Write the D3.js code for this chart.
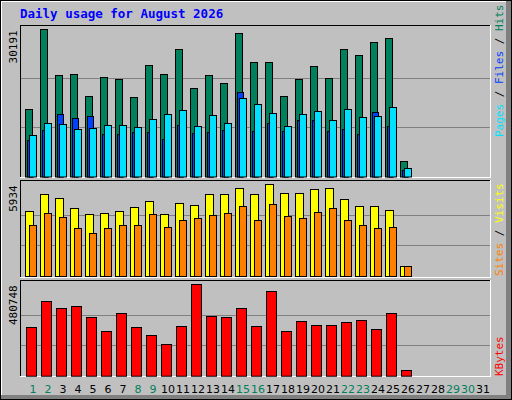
<!DOCTYPE html>
<html><head><meta charset="utf-8">
<script src="https://cdn.jsdelivr.net/npm/d3@7"></script>
<style>body{margin:0;background:#fff}</style></head>
<body><svg id="c" width="512" height="400"></svg>
<script>
const days = d3.range(1, 32);
const weekend = [1,2,8,9,15,16,22,23,29,30];
const hits  = [13865,30191,20764,20969,16461,20355,19945,16256,22813,20969,26092,18100,20764,19125,29371,23428,23428,16461,19945,22609,20150,26092,24863,27527,28346,3142];
const files = [7513,9494,12773,11953,12363,8675,8675,9084,9084,7650,10519,8880,9084,9494,17281,9289,10929,9289,11544,11544,9289,9699,8675,13183,10314,1298];
const pages = [8470,10929,10724,9699,9904,10519,10519,10109,11748,12773,13593,10314,12568,10929,16052,14822,12978,10314,12773,13388,11544,13798,12158,12363,14207,1708];
const visits= [4186,5287,5028,4381,3992,4057,4186,4445,4834,3992,4704,4575,5287,5287,5675,5287,5934,5352,5352,5611,5675,4963,4510,4510,4251,647];
const sites = [3280,4057,3798,3086,2762,3086,3280,3280,3992,3151,3604,3733,3928,4057,4510,3604,4640,3863,3733,4122,4381,3604,3280,3086,3151,647];
const kbytes= [254417,391276,354429,364957,307055,233362,328110,254417,212307,164932,259681,480748,312319,307055,354429,259681,443914,233362,285999,264945,264945,280736,291263,243889,328110,28074];
const maxLabels = ["30191","5934","480748"];

const svg = d3.select("#c");
const mono = "DejaVu Sans Mono, monospace";
// frame
svg.append("rect").attr("x",0).attr("y",0).attr("width",512).attr("height",400).attr("fill","#000");
svg.append("rect").attr("x",1).attr("y",1).attr("width",510).attr("height",398).attr("fill","#808080");
svg.append("rect").attr("x",1).attr("y",1).attr("width",505).attr("height",394).attr("fill","#fff");
svg.append("rect").attr("x",2).attr("y",2).attr("width",504).attr("height",393).attr("fill","#C0C0C0");

svg.append("text").attr("x",20).attr("y",18).attr("fill","#0000FF")
  .attr("font-family",mono).attr("font-weight","bold").attr("font-size",12.5)
  .text("Daily usage for August 2026");

const x = d3.scaleLinear().domain([1,32]).range([25,490]);

function panel(top, bottom, base, maxTop, maxV, label) {
  svg.append("rect").attr("x",20).attr("y",top).attr("width",471).attr("height",bottom-top).attr("fill","#C0C0C0");
  svg.append("line").attr("x1",20).attr("x2",491).attr("y1",top+0.5).attr("y2",top+0.5).attr("stroke","#000");
  svg.append("line").attr("x1",20.5).attr("x2",20.5).attr("y1",top).attr("y2",bottom).attr("stroke","#000");
  svg.append("line").attr("x1",20).attr("x2",491).attr("y1",bottom+0.5).attr("y2",bottom+0.5).attr("stroke","#fff");
  svg.append("line").attr("x1",490.5).attr("x2",490.5).attr("y1",top).attr("y2",bottom+1).attr("stroke","#fff");
  const y = d3.scaleLinear().domain([0,maxV]).range([base,maxTop]);
  [1/3,2/3].forEach(f=>{
    const yy = Math.round(y(maxV*f))+0.5;
    svg.append("line").attr("x1",21).attr("x2",490).attr("y1",yy).attr("y2",yy).attr("stroke","#808080");
  });
  svg.append("text").attr("transform",`translate(17,${maxTop+1}) rotate(-90)`).attr("text-anchor","end")
    .attr("font-family",mono).attr("font-size",11).attr("fill","#000").text(label);
  return y;
}
function bars(y, data, dx, w, color, base) {
  svg.append("g").selectAll("rect").data(data).join("rect")
    .attr("x",(d,i)=>x(i+1)+dx+0.5).attr("width",w)
    .attr("y",d=>Math.round(y(d))+0.5).attr("height",d=>Math.max(0,base-Math.round(y(d))))
    .attr("fill",color).attr("stroke","#000").attr("stroke-width",1);
}
const y1 = panel(25,177,176.5,29.3,30191,maxLabels[0]);
bars(y1,hits,0,7,"#00805C",176.5);
bars(y1,files,2,6,"#0040FF",176.5);
bars(y1,pages,4,7,"#00E0FF",176.5);
const y2 = panel(180,277,276,184.3,5934,maxLabels[1]);
bars(y2,visits,0,8,"#FFFF00",276);
bars(y2,sites,4,7,"#FF8000",276);
const y3 = panel(280,376,375.7,284.3,480748,maxLabels[2]);
bars(y3,kbytes,1,10,"#FF0000",375.7);

// right legends
function legend(cx, ybottom, parts) {
  const t = svg.append("text").attr("transform",`translate(${cx},${ybottom}) rotate(-90)`)
    .attr("font-family",mono).attr("font-size",11);
  parts.forEach(p=>t.append("tspan").attr("fill",p[1]).text(p[0]));
}
legend(503,137,[["Pages","#00E0FF"],[" / ","#000"],["Files","#0040FF"],[" / ","#000"],["Hits","#00805C"]]);
legend(503,276,[["Sites","#FF8000"],[" / ","#000"],["Visits","#FFFF00"]]);
legend(503,376,[["KBytes","#FF0000"]]);

svg.append("g").selectAll("text").data(days).join("text")
  .attr("x",d=>x(d)+8).attr("y",393).attr("text-anchor","middle")
  .attr("font-family","DejaVu Sans, sans-serif").attr("font-size",11)
  .attr("fill",d=>weekend.includes(d)?"#00805C":"#000").text(d=>d);
</script></body></html>
